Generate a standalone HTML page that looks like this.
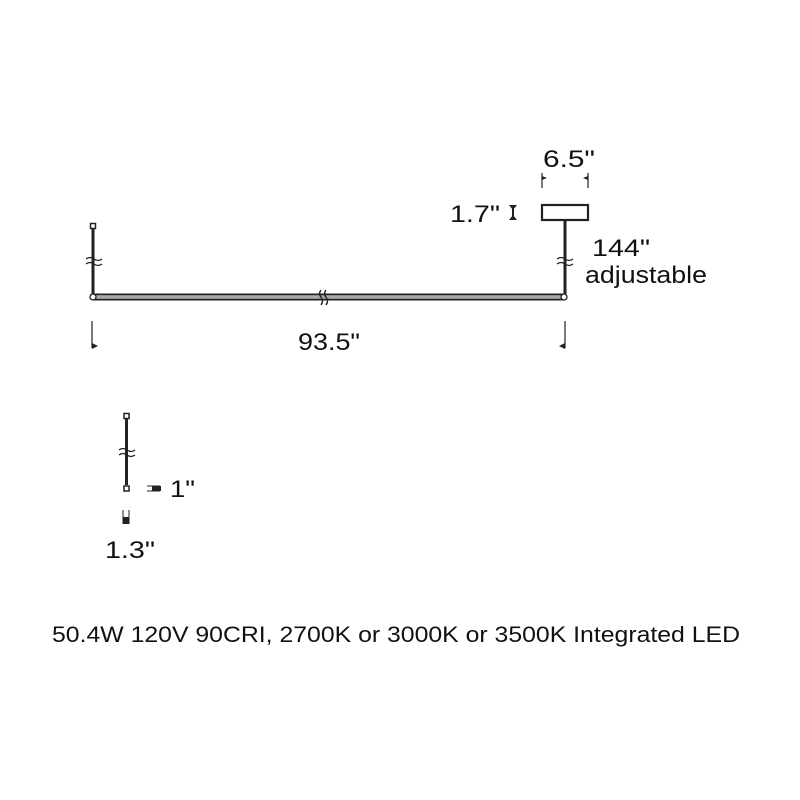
<!DOCTYPE html>
<html><head><meta charset="utf-8"><style>
html,body{margin:0;padding:0;background:#fff;}
svg{display:block}
text{font-family:"Liberation Sans",sans-serif;fill:#111}
</style></head><body>
<svg width="800" height="800" viewBox="0 0 800 800" xmlns="http://www.w3.org/2000/svg">
<g stroke="#222" fill="none">
  <rect x="90.5" y="223.5" width="5" height="5" stroke-width="1.5"/>
  <line x1="93" y1="228" x2="93" y2="294" stroke-width="3"/>
  <path d="M86 259 q4 -3 8 0 q4 3 8 0 M86 264 q4 -3 8 0 q4 3 8 0" stroke-width="1.3"/>
  <line x1="93" y1="294.5" x2="565" y2="294.5" stroke-width="2"/>
  <line x1="93" y1="299.5" x2="565" y2="299.5" stroke-width="2"/>
  <line x1="93" y1="297" x2="565" y2="297" stroke="#aaa" stroke-width="2"/>
  <circle cx="93" cy="297" r="3" stroke-width="1.3" fill="#fff"/>
  <circle cx="564" cy="297" r="3" stroke-width="1.3" fill="#fff"/>
  <path d="M321 290 q-3 4 0 7 q3 4 0 8 M326 290 q-3 4 0 7 q3 4 0 8" stroke-width="1.4"/>
  <rect x="542" y="205" width="46" height="15" stroke-width="2.2" fill="#fff"/>
  <line x1="565" y1="221" x2="565" y2="294" stroke-width="3"/>
  <path d="M557 259 q4 -3 8 0 q4 3 8 0 M557 264 q4 -3 8 0 q4 3 8 0" stroke-width="1.3"/>
  <line x1="92" y1="321" x2="92" y2="348" stroke-width="1.2"/>
  <line x1="565" y1="321" x2="565" y2="348" stroke-width="1.2"/>
  <line x1="542" y1="173" x2="542" y2="188" stroke-width="1.2"/>
  <line x1="588" y1="173" x2="588" y2="188" stroke-width="1.2"/>
  <rect x="124" y="413.5" width="5" height="5" stroke-width="1.5"/>
  <line x1="126.5" y1="418" x2="126.5" y2="485" stroke-width="3"/>
  <path d="M119 450 q4 -3 8 0 q4 3 8 0 M119 455 q4 -3 8 0 q4 3 8 0" stroke-width="1.3"/>
  <rect x="124" y="486" width="5" height="5" stroke-width="1.5"/>
  <line x1="147" y1="486" x2="160" y2="486" stroke-width="1"/>
  <line x1="147" y1="491" x2="160" y2="491" stroke-width="1"/>
  <line x1="123" y1="510" x2="123" y2="524" stroke-width="1"/>
  <line x1="129" y1="510" x2="129" y2="524" stroke-width="1"/>
</g>
<g fill="#222">
  <path d="M92 343 l6 3 l-6 3 z"/>
  <path d="M565 343 l-6 3 l6 3 z"/>
  <path d="M542 176 l5 2 l-5 2 z"/>
  <path d="M588 176 l-5 2 l5 2 z"/>
  <path d="M509 205 h8 l-4 5 z M509 220 h8 l-4 -5 z"/>
  <rect x="512" y="205" width="2" height="15"/>
  <rect x="152" y="486" width="9" height="5"/>
  <rect x="123" y="517" width="6" height="7"/>
</g>
<text x="543" y="167" font-size="24" textLength="52" lengthAdjust="spacingAndGlyphs">6.5"</text>
<text x="450" y="222" font-size="24" textLength="50" lengthAdjust="spacingAndGlyphs">1.7"</text>
<text x="592" y="256" font-size="24" textLength="58" lengthAdjust="spacingAndGlyphs">144"</text>
<text x="585" y="283" font-size="24" textLength="122" lengthAdjust="spacingAndGlyphs">adjustable</text>
<text x="298" y="350" font-size="24" textLength="62" lengthAdjust="spacingAndGlyphs">93.5"</text>
<text x="170" y="497" font-size="24" textLength="25" lengthAdjust="spacingAndGlyphs">1"</text>
<text x="105" y="558" font-size="24" textLength="50" lengthAdjust="spacingAndGlyphs">1.3"</text>
<text x="52" y="642" font-size="22" textLength="688" lengthAdjust="spacingAndGlyphs">50.4W 120V 90CRI, 2700K or 3000K or 3500K Integrated LED</text>
</svg>
</body></html>
